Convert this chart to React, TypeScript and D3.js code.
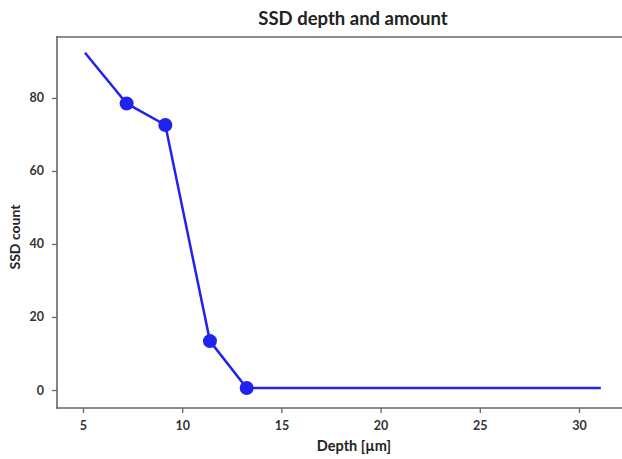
import React, { useEffect, useRef } from 'react';
import * as d3 from 'd3';

const depth = [5.1, 7.2, 9.15, 11.4, 13.25, 31.1];
const ssdCount = [92.4, 78.5, 72.6, 13.4, 0.55, 0.55];
const hasMarker = [false, true, true, true, true, false];
const xTicks = [5, 10, 15, 20, 25, 30];
const yTicks = [0, 20, 40, 60, 80];

const W = 622;
const H = 459;
const left = 57;
const right = 651;
const top = 37;
const bottom = 408;
const blue = '#2222ee';
const axisColor = '#666';
const font = 'Lato, "Open Sans", sans-serif';

export default function App() {
  const ref = useRef<SVGSVGElement>(null);

  useEffect(() => {
    const svg = d3.select(ref.current);
    svg.selectAll('*').remove();

    const x = d3.scaleLinear().domain([3.69, 33.63]).range([left, right]);
    const y = d3.scaleLinear().domain([-4.93, 96.7]).range([bottom, top]);

    // frame: top, left, bottom (right side falls outside the picture)
    const frame = [
      [left, top, W + 2, top],
      [left, top, left, bottom],
      [left, bottom, W + 2, bottom],
    ];
    svg.append('g')
      .selectAll('line')
      .data(frame)
      .join('line')
      .attr('x1', d => d[0]).attr('y1', d => d[1])
      .attr('x2', d => d[2]).attr('y2', d => d[3])
      .attr('stroke', axisColor).attr('stroke-width', 1.6)
      .attr('stroke-linecap', 'square');

    const xAxis = svg.append('g')
      .attr('transform', `translate(0,${bottom})`)
      .call(d3.axisBottom(x).tickValues(xTicks).tickSize(5).tickPadding(8).tickFormat(d3.format('d')));
    const yAxis = svg.append('g')
      .attr('transform', `translate(${left},0)`)
      .call(d3.axisLeft(y).tickValues(yTicks).tickSize(5).tickPadding(8).tickFormat(d3.format('d')));

    [xAxis, yAxis].forEach(g => {
      g.select('.domain').remove();
      g.selectAll('line').attr('stroke', axisColor).attr('stroke-width', 1.3);
      g.selectAll('text')
        .attr('fill', '#333')
        .style('font-family', font)
        .style('font-size', '12.5px')
        .style('font-weight', 'bold');
    });

    const pts = depth.map((d, i) => [d, ssdCount[i]] as [number, number]);
    const line = d3.line<[number, number]>().x(d => x(d[0])).y(d => y(d[1]));

    svg.append('path')
      .attr('d', line(pts))
      .attr('fill', 'none')
      .attr('stroke', blue)
      .attr('stroke-width', 2.5);

    svg.append('g')
      .selectAll('circle')
      .data(pts.filter((_, i) => hasMarker[i]))
      .join('circle')
      .attr('cx', d => x(d[0]))
      .attr('cy', d => y(d[1]))
      .attr('r', 7)
      .attr('fill', blue);

    svg.append('text')
      .attr('x', 353).attr('y', 25)
      .attr('text-anchor', 'middle')
      .style('font-family', font).style('font-size', '18.5px').style('font-weight', 'bold')
      .attr('fill', '#222')
      .text('SSD depth and amount');

    svg.append('text')
      .attr('x', 354).attr('y', 451)
      .attr('text-anchor', 'middle')
      .style('font-family', font).style('font-size', '14.5px').style('font-weight', 'bold')
      .attr('fill', '#222')
      .text('Depth [µm]');

    svg.append('text')
      .attr('transform', `translate(20,237) rotate(-90)`)
      .attr('text-anchor', 'middle')
      .style('font-family', font).style('font-size', '14px').style('font-weight', 'bold')
      .attr('fill', '#222')
      .text('SSD count');
  }, []);

  return (
    <svg ref={ref} width={W} height={H} style={{ position: 'absolute', left: 0, top: 0, background: '#fff' }} />
  );
}
